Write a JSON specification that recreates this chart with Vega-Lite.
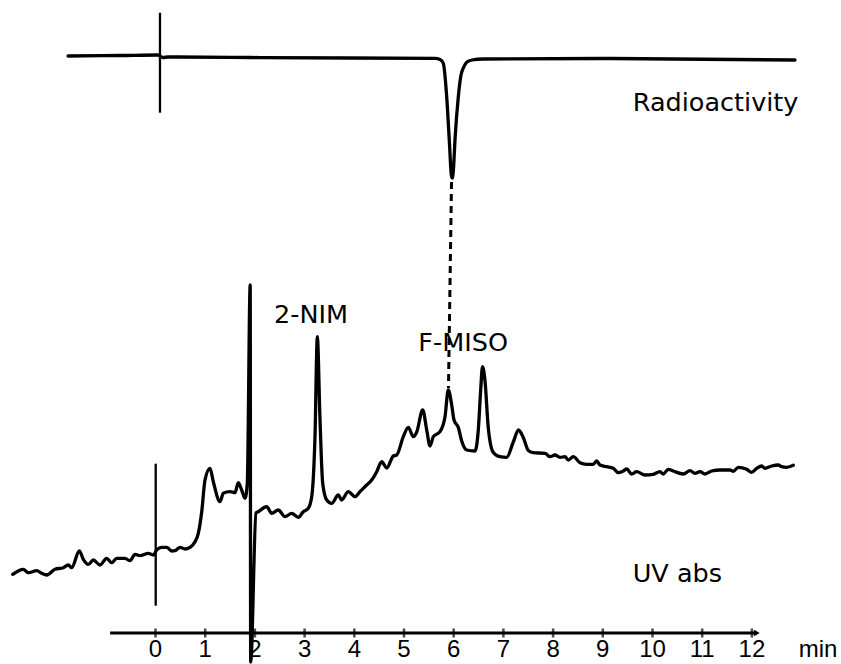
{
  "$schema": "https://vega.github.io/schema/vega-lite/v6.json",
  "width": 841,
  "height": 664,
  "autosize": {"type": "none"},
  "padding": 0,
  "background": "white",
  "config": {"view": {"stroke": null}},
  "datasets": {
    "uv": [
      {"t": -2.873, "s": 8.97}, {"t": -2.66, "s": 9.47}, {"t": -2.559, "s": 9.13}, {"t": -2.39, "s": 9.33},
      {"t": -2.29, "s": 9.07}, {"t": -2.189, "s": 8.9}, {"t": -2.022, "s": 9.47}, {"t": -1.855, "s": 9.63},
      {"t": -1.755, "s": 9.9}, {"t": -1.686, "s": 9.63}, {"t": -1.533, "s": 11.3}, {"t": -1.453, "s": 10.47},
      {"t": -1.352, "s": 9.97}, {"t": -1.252, "s": 10.4}, {"t": -1.117, "s": 9.9}, {"t": -0.982, "s": 10.57},
      {"t": -0.881, "s": 10.13}, {"t": -0.781, "s": 10.57}, {"t": -0.614, "s": 10.57}, {"t": -0.513, "s": 10.33},
      {"t": -0.412, "s": 10.97}, {"t": -0.312, "s": 10.83}, {"t": -0.145, "s": 11.07}, {"t": -0.044, "s": 10.9},
      {"t": 0.024, "s": 11.4}, {"t": 0.125, "s": 11.67}, {"t": 0.225, "s": 11.67}, {"t": 0.326, "s": 11.3},
      {"t": 0.392, "s": 11.33}, {"t": 0.493, "s": 11.67}, {"t": 0.594, "s": 11.5}, {"t": 0.694, "s": 11.67},
      {"t": 0.795, "s": 12.23}, {"t": 0.861, "s": 13.07}, {"t": 0.93, "s": 15.23}, {"t": 0.996, "s": 18.4},
      {"t": 1.097, "s": 19.57}, {"t": 1.163, "s": 18.23}, {"t": 1.298, "s": 16.23}, {"t": 1.364, "s": 17.07},
      {"t": 1.499, "s": 17.23}, {"t": 1.6, "s": 17.13}, {"t": 1.666, "s": 18.13}, {"t": 1.734, "s": 17.4},
      {"t": 1.801, "s": 16.57}, {"t": 1.847, "s": 18.07}, {"t": 1.905, "s": 37.9}, {"t": 1.915, "s": 0.2},
      {"t": 2.022, "s": 15.1}, {"t": 2.068, "s": 15.23}, {"t": 2.237, "s": 15.73}, {"t": 2.338, "s": 15.07},
      {"t": 2.471, "s": 15.4}, {"t": 2.606, "s": 14.73}, {"t": 2.74, "s": 15.07}, {"t": 2.873, "s": 14.67},
      {"t": 2.974, "s": 15.23}, {"t": 3.074, "s": 15.57}, {"t": 3.143, "s": 16.73}, {"t": 3.209, "s": 22.73},
      {"t": 3.256, "s": 32.73}, {"t": 3.31, "s": 24.4}, {"t": 3.364, "s": 18.07}, {"t": 3.445, "s": 16.4},
      {"t": 3.545, "s": 16.07}, {"t": 3.678, "s": 16.9}, {"t": 3.746, "s": 16.4}, {"t": 3.879, "s": 17.23},
      {"t": 4.014, "s": 16.73}, {"t": 4.115, "s": 17.23}, {"t": 4.249, "s": 17.9}, {"t": 4.35, "s": 18.4},
      {"t": 4.451, "s": 19.23}, {"t": 4.551, "s": 20.23}, {"t": 4.652, "s": 19.6}, {"t": 4.785, "s": 20.8},
      {"t": 4.853, "s": 20.9}, {"t": 4.986, "s": 22.73}, {"t": 5.087, "s": 23.67}, {"t": 5.187, "s": 22.73},
      {"t": 5.256, "s": 23.2}, {"t": 5.376, "s": 25.4}, {"t": 5.457, "s": 23.4}, {"t": 5.523, "s": 21.8},
      {"t": 5.59, "s": 22.73}, {"t": 5.724, "s": 23.23}, {"t": 5.825, "s": 24.73}, {"t": 5.891, "s": 27.4},
      {"t": 5.96, "s": 25.9}, {"t": 6.006, "s": 24.4}, {"t": 6.093, "s": 23.65}, {"t": 6.161, "s": 22.3},
      {"t": 6.262, "s": 21.4}, {"t": 6.429, "s": 21.3}, {"t": 6.495, "s": 23.4}, {"t": 6.543, "s": 27.4},
      {"t": 6.579, "s": 29.73}, {"t": 6.63, "s": 28.3}, {"t": 6.696, "s": 23.6}, {"t": 6.797, "s": 21.15},
      {"t": 6.932, "s": 20.73}, {"t": 7.066, "s": 20.67}, {"t": 7.199, "s": 22.2}, {"t": 7.304, "s": 23.4},
      {"t": 7.4, "s": 22.65}, {"t": 7.501, "s": 21.35}, {"t": 7.602, "s": 21.13}, {"t": 7.837, "s": 21.07},
      {"t": 7.938, "s": 20.73}, {"t": 8.038, "s": 20.9}, {"t": 8.139, "s": 20.67}, {"t": 8.239, "s": 20.73},
      {"t": 8.306, "s": 20.4}, {"t": 8.406, "s": 20.73}, {"t": 8.541, "s": 20.13}, {"t": 8.676, "s": 19.97},
      {"t": 8.809, "s": 19.97}, {"t": 8.877, "s": 20.3}, {"t": 8.944, "s": 19.9}, {"t": 9.078, "s": 19.73},
      {"t": 9.211, "s": 19.57}, {"t": 9.312, "s": 19.13}, {"t": 9.412, "s": 19.3}, {"t": 9.481, "s": 19.5},
      {"t": 9.581, "s": 19.0}, {"t": 9.682, "s": 19.23}, {"t": 9.849, "s": 18.9}, {"t": 10.016, "s": 18.97},
      {"t": 10.151, "s": 19.23}, {"t": 10.217, "s": 19.0}, {"t": 10.318, "s": 19.47}, {"t": 10.418, "s": 19.3},
      {"t": 10.62, "s": 19.0}, {"t": 10.755, "s": 19.33}, {"t": 10.855, "s": 19.07}, {"t": 10.956, "s": 19.23},
      {"t": 11.056, "s": 19.0}, {"t": 11.191, "s": 19.3}, {"t": 11.358, "s": 19.4}, {"t": 11.559, "s": 19.4},
      {"t": 11.626, "s": 19.27}, {"t": 11.726, "s": 19.67}, {"t": 11.895, "s": 19.47}, {"t": 11.996, "s": 19.17},
      {"t": 12.097, "s": 19.57}, {"t": 12.197, "s": 19.8}, {"t": 12.264, "s": 19.57}, {"t": 12.398, "s": 19.8},
      {"t": 12.531, "s": 19.9}, {"t": 12.599, "s": 19.73}, {"t": 12.7, "s": 19.67}, {"t": 12.833, "s": 19.87}
    ],
    "radio": [
      {"t": -1.76, "s": 60.8}, {"t": -0.714, "s": 60.85}, {"t": 0.05, "s": 60.9}, {"t": 0.151, "s": 60.65},
      {"t": 0.252, "s": 60.7}, {"t": 1.901, "s": 60.65}, {"t": 3.913, "s": 60.6}, {"t": 5.624, "s": 60.57},
      {"t": 5.724, "s": 60.45}, {"t": 5.791, "s": 60.07}, {"t": 5.859, "s": 56.73}, {"t": 5.911, "s": 52.4},
      {"t": 5.955, "s": 48.8}, {"t": 5.972, "s": 48.6}, {"t": 5.995, "s": 49.5}, {"t": 6.026, "s": 52.4},
      {"t": 6.093, "s": 56.73}, {"t": 6.147, "s": 58.9}, {"t": 6.193, "s": 59.6}, {"t": 6.267, "s": 60.2},
      {"t": 6.368, "s": 60.4}, {"t": 6.59, "s": 60.5}, {"t": 8.944, "s": 60.55}, {"t": 12.867, "s": 60.4}
    ],
    "markers": [
      {"t": 0.09, "s": 65.13, "s2": 55.13},
      {"t": 0.004, "s": 20.03, "s2": 5.83}
    ],
    "link": [
      {"t": 5.956, "s": 48.2, "t2": 5.895, "s2": 27.6}
    ],
    "axisline": [
      {"t": -0.913, "t2": 12.1, "s": 3.1}
    ],
    "minutes": [
      {"t": 0, "lab": "0"}, {"t": 1, "lab": "1"}, {"t": 2, "lab": "2"}, {"t": 3, "lab": "3"},
      {"t": 4, "lab": "4"}, {"t": 5, "lab": "5"}, {"t": 6, "lab": "6"}, {"t": 7, "lab": "7"},
      {"t": 8, "lab": "8"}, {"t": 9, "lab": "9"}, {"t": 10, "lab": "10"}, {"t": 11, "lab": "11"},
      {"t": 12, "lab": "12"}
    ],
    "notes": [
      {"t": 11.27, "s": 55.3, "lab": "Radioactivity"},
      {"t": 10.5, "s": 8.23, "lab": "UV abs"},
      {"t": 3.13, "s": 34.1, "lab": "2-NIM"},
      {"t": 6.19, "s": 31.3, "lab": "F-MISO"}
    ],
    "unit": [
      {"t": 13.33, "s": 0.68, "lab": "min"}
    ]
  },
  "layer": [
    {"data": {"name": "uv"},
     "mark": {"type": "line", "color": "black", "strokeWidth": 3.3, "strokeJoin": "round", "strokeCap": "round", "interpolate": "monotone"},
     "encoding": {
       "x": {"field": "t", "type": "quantitative", "axis": null, "scale": {"domain": [-3.129, 13.793], "nice": false, "zero": false}},
       "y": {"field": "s", "type": "quantitative", "axis": null, "scale": {"domain": [0, 66.4], "nice": false, "zero": false}}
     }},
    {"data": {"name": "radio"},
     "mark": {"type": "line", "color": "black", "strokeWidth": 3.3, "strokeJoin": "round", "strokeCap": "round", "interpolate": "monotone"},
     "encoding": {
       "x": {"field": "t", "type": "quantitative"},
       "y": {"field": "s", "type": "quantitative"}
     }},
    {"data": {"name": "markers"},
     "mark": {"type": "rule", "color": "black", "strokeWidth": 2.3},
     "encoding": {
       "x": {"field": "t", "type": "quantitative"},
       "y": {"field": "s", "type": "quantitative"},
       "y2": {"field": "s2"}
     }},
    {"data": {"name": "link"},
     "mark": {"type": "rule", "color": "black", "strokeWidth": 3, "strokeDash": [7, 5]},
     "encoding": {
       "x": {"field": "t", "type": "quantitative"},
       "y": {"field": "s", "type": "quantitative"},
       "x2": {"field": "t2"},
       "y2": {"field": "s2"}
     }},
    {"data": {"name": "axisline"},
     "mark": {"type": "rule", "color": "black", "strokeWidth": 2.8},
     "encoding": {
       "x": {"field": "t", "type": "quantitative"},
       "x2": {"field": "t2"},
       "y": {"field": "s", "type": "quantitative"}
     }},
    {"data": {"name": "axisline"},
     "mark": {"type": "point", "shape": "triangle-right", "filled": true, "color": "black", "size": 45, "opacity": 1},
     "encoding": {
       "x": {"field": "t2", "type": "quantitative"},
       "y": {"field": "s", "type": "quantitative"}
     }},
    {"data": {"name": "minutes"},
     "mark": {"type": "tick", "orient": "vertical", "color": "black", "thickness": 2.5, "size": 9},
     "encoding": {
       "x": {"field": "t", "type": "quantitative"},
       "y": {"datum": 3.1, "type": "quantitative"}
     }},
    {"data": {"name": "minutes"},
     "mark": {"type": "text", "font": "Liberation Sans", "fontSize": 24, "color": "black", "baseline": "alphabetic", "align": "center"},
     "encoding": {
       "x": {"field": "t", "type": "quantitative"},
       "y": {"datum": 0.68, "type": "quantitative"},
       "text": {"field": "lab"}
     }},
    {"data": {"name": "notes"},
     "mark": {"type": "text", "font": "DejaVu Sans", "fontSize": 25.5, "color": "black", "baseline": "alphabetic", "align": "center"},
     "encoding": {
       "x": {"field": "t", "type": "quantitative"},
       "y": {"field": "s", "type": "quantitative"},
       "text": {"field": "lab"}
     }},
    {"data": {"name": "unit"},
     "mark": {"type": "text", "font": "Liberation Sans", "fontSize": 24, "color": "black", "baseline": "alphabetic", "align": "center"},
     "encoding": {
       "x": {"field": "t", "type": "quantitative"},
       "y": {"field": "s", "type": "quantitative"},
       "text": {"field": "lab"}
     }}
  ]
}
